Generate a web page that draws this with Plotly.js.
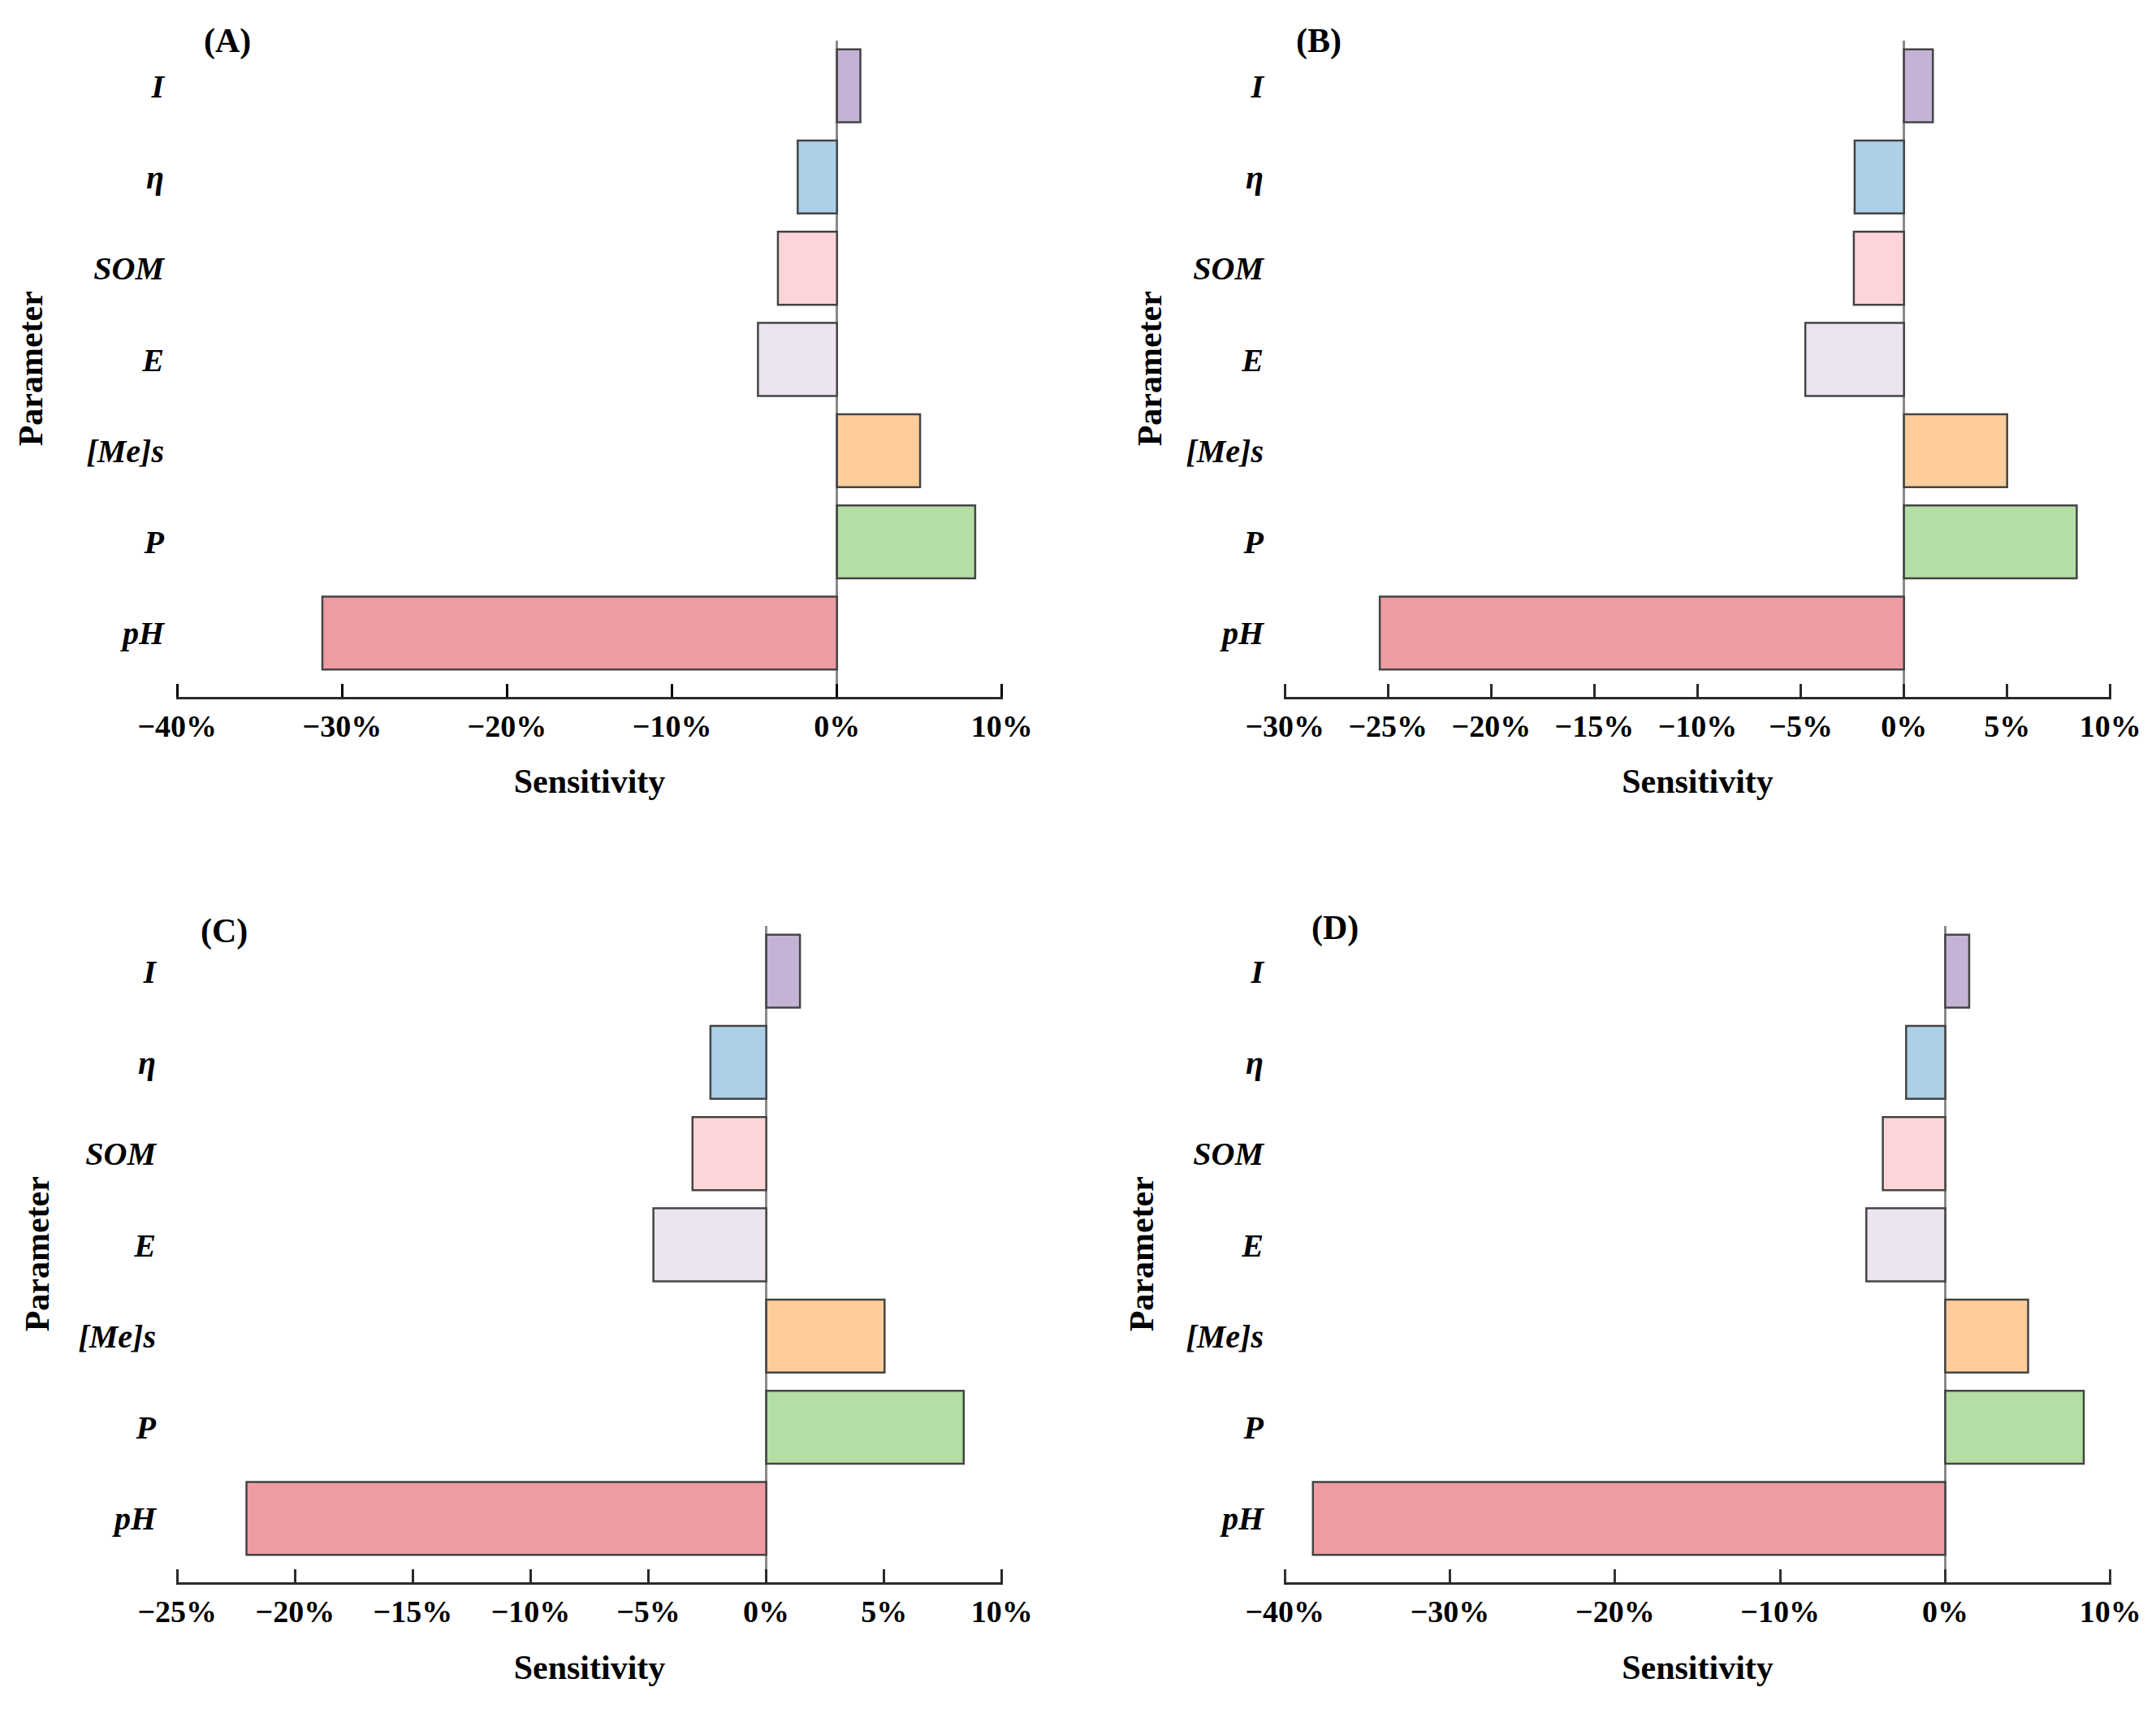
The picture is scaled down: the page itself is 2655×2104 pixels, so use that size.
<!DOCTYPE html>
<html>
<head>
<meta charset="utf-8">
<script src="https://cdn.plot.ly/plotly-3.0.1.min.js"></script>
<style>html,body{margin:0;padding:0;background:#fff;}#chart{width:2655px;height:2104px;}</style>
</head>
<body>
<div id="chart"></div>
<script>
// Categories, bottom to top
const categories = ['pH', 'P', '[Me]s', 'E', 'SOM', 'η', 'I'];
const barColors = ['#ee9ba3', '#b4dea3', '#fecd9b', '#ece4ef', '#fdd5d8', '#acd0e8', '#c5b3d6'];

// Sensitivity values per panel (fractions)
const valuesA = [-0.312, 0.0838, 0.0504, -0.0479, -0.0358, -0.0238, 0.0142];
const valuesB = [-0.254, 0.0837, 0.0500, -0.0478, -0.0243, -0.0239, 0.0140];
const valuesC = [-0.2206, 0.0838, 0.0502, -0.0479, -0.0313, -0.0237, 0.0143];
const valuesD = [-0.383, 0.0839, 0.0502, -0.0478, -0.0378, -0.0237, 0.0145];

// Tick values and labels
const ticks40 = [-0.4, -0.3, -0.2, -0.1, 0, 0.1];
const labels40 = ['−40%', '−30%', '−20%', '−10%', '0%', '10%'];
const ticks30 = [-0.3, -0.25, -0.2, -0.15, -0.1, -0.05, 0, 0.05, 0.1];
const labels30 = ['−30%', '−25%', '−20%', '−15%', '−10%', '−5%', '0%', '5%', '10%'];
const ticks25 = [-0.25, -0.2, -0.15, -0.1, -0.05, 0, 0.05, 0.1];
const labels25 = ['−25%', '−20%', '−15%', '−10%', '−5%', '0%', '5%', '10%'];

const panelLabels = ['(A)', '(B)', '(C)', '(D)'];
const xTitle = 'Sensitivity';
const yTitle = 'Parameter';

const W = 2655, H = 2104;
const serif = 'Liberation Serif';

function trace(vals, n) {
  return {
    type: 'bar', orientation: 'h',
    x: vals, y: categories,
    width: 0.8,
    marker: { color: barColors, line: { color: '#444', width: 2.5 } },
    xaxis: 'x' + (n === 1 ? '' : n), yaxis: 'y' + (n === 1 ? '' : n),
    hoverinfo: 'skip', showlegend: false
  };
}

function xaxis(domain, anchor, lo, hi, tv, tt, standoff, tc) {
  const pad = (hi - lo) * 0.0012;
  return {
    domain: domain, anchor: anchor, range: [lo - pad, hi + pad],
    tickmode: 'array', tickvals: tv, ticktext: tt,
    showline: true, linecolor: '#2a2a2a', linewidth: 3,
    ticks: 'inside', ticklen: 16, tickwidth: 3, tickcolor: tc,
    showgrid: false,
    zeroline: true, zerolinecolor: '#8a8a8a', zerolinewidth: 2.5,
    tickfont: { family: serif, size: 38, color: '#000', weight: 'bold' },
    title: { text: xTitle, standoff: standoff, font: { family: serif, size: 42, color: '#000', weight: 'bold' } },
    fixedrange: true
  };
}

function yaxis(domain, anchor, labStandoff, titleStandoff) {
  return {
    domain: domain, anchor: anchor,
    type: 'category', categoryorder: 'array', categoryarray: categories,
    range: [-0.70, 6.5],
    showline: false, ticks: '', showgrid: false, zeroline: false,
    ticklabelstandoff: labStandoff,
    tickfont: { family: serif, size: 40, color: '#000', weight: 'bold', style: 'italic' },
    title: { text: yTitle, standoff: titleStandoff, font: { family: serif, size: 42, color: '#000', weight: 'bold' } },
    fixedrange: true
  };
}

const xL = [217 / W, 1235 / W];
const xR = [1581 / W, 2600 / W];
const yT = [1 - 858 / H, 1 - 49.5 / H];
const yB = [1 - 1948 / H, 1 - 1139.5 / H];

const data = [trace(valuesA, 1), trace(valuesB, 2), trace(valuesC, 3), trace(valuesD, 4)];

const labelPos = [[280, 51], [1624, 51], [276, 1146], [1644, 1142]];
const annotations = panelLabels.map((t, i) => ({
  text: t, xref: 'paper', yref: 'paper',
  x: labelPos[i][0] / W, y: 1 - labelPos[i][1] / H,
  xanchor: 'center', yanchor: 'middle', showarrow: false,
  font: { family: serif, size: 42, color: '#000', weight: 'bold' }
}));

const layout = {
  width: W, height: H, autosize: false,
  margin: { l: 0, r: 0, t: 0, b: 0 },
  paper_bgcolor: '#fff', plot_bgcolor: '#fff',
  bargap: 0.2,
  xaxis: xaxis(xL, 'y', -0.4, 0.1, ticks40, labels40, 34, '#000000'),
  yaxis: yaxis(yT, 'x', 14, 40),
  xaxis2: xaxis(xR, 'y2', -0.3, 0.1, ticks30, labels30, 34, 'rgb(42,42,42)'),
  yaxis2: yaxis(yT, 'x2', 24, 16),
  xaxis3: xaxis(xL, 'y3', -0.25, 0.1, ticks25, labels25, 34, '#2a2a2a'),
  yaxis3: yaxis(yB, 'x3', 24, 22),
  xaxis4: xaxis(xR, 'y4', -0.4, 0.1, ticks40, labels40, 34, '#333'),
  yaxis4: yaxis(yB, 'x4', 24, 26),
  annotations: annotations
};

Plotly.newPlot('chart', data, layout, { staticPlot: true, displayModeBar: false });
</script>
</body>
</html>
